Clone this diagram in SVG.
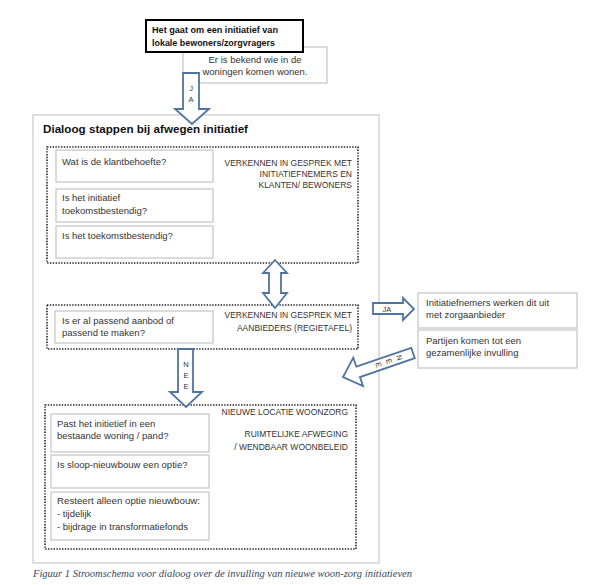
<svg xmlns="http://www.w3.org/2000/svg" width="600" height="585" viewBox="0 0 600 585">
<style>
.t{font-family:"Liberation Sans",Arial,sans-serif;font-size:9.5px;fill:#333}
.c{font-family:"Liberation Sans",Arial,sans-serif;font-size:8.5px;fill:#333;text-anchor:end}
.b{font-family:"Liberation Sans",Arial,sans-serif;font-weight:bold;fill:#111}
.box{fill:#fff;stroke:#c4c4c4;stroke-width:1.2}
.dot{fill:none;stroke:#222;stroke-width:1.6;stroke-dasharray:1.4 1.4}
.arr{fill:#fff;stroke:#4f74a0;stroke-width:1.8;stroke-linejoin:miter}
.al{font-family:"Liberation Sans",Arial,sans-serif;font-size:7.5px;fill:#333;text-anchor:middle}
</style>
<rect width="600" height="585" fill="#fff"/>

<g id="outer">
<rect x="33" y="115" width="346" height="448" fill="none" stroke="#c8c8c8" stroke-width="1.2"/>
<text class="b" x="43" y="133" font-size="11.5" textLength="205" lengthAdjust="spacingAndGlyphs">Dialoog stappen bij afwegen initiatief</text>
</g>

<g id="known">
<rect class="box" x="183" y="47" width="144" height="36"/>
<text class="t" x="255" y="63" text-anchor="middle">Er is bekend wie in de</text>
<text class="t" x="255" y="75" text-anchor="middle">woningen komen wonen.</text>
</g>

<g id="start">
<rect x="146" y="20" width="157" height="32" fill="#fff" stroke="#000" stroke-width="2"/>
<text class="b" x="152" y="33" font-size="9.5" textLength="126" lengthAdjust="spacingAndGlyphs">Het gaat om een initiatief van</text>
<text class="b" x="152" y="46" font-size="9.5" textLength="123" lengthAdjust="spacingAndGlyphs">lokale bewoners/zorgvragers</text>
</g>

<g id="stage1">
<rect class="dot" x="47" y="147" width="311" height="116"/>
<text class="c" x="352" y="166">VERKENNEN IN GESPREK MET</text>
<text class="c" x="352" y="177">INITIATIEFNEMERS EN</text>
<text class="c" x="352" y="188">KLANTEN/ BEWONERS</text>
</g>
<g id="q1">
<rect class="box" x="56" y="150" width="157" height="32"/>
<text class="t" x="62" y="165">Wat is de klantbehoefte?</text>
</g>
<g id="q2">
<rect class="box" x="56" y="189" width="157" height="33"/>
<text class="t" x="62" y="201">Is het initiatief</text>
<text class="t" x="62" y="214">toekomstbestendig?</text>
</g>
<g id="q3">
<rect class="box" x="56" y="226" width="157" height="32"/>
<text class="t" x="62" y="239">Is het toekomstbestendig?</text>
</g>

<g id="stage2">
<rect class="dot" x="47" y="305" width="311" height="44"/>
<text class="c" x="352" y="318">VERKENNEN IN GESPREK MET</text>
<text class="c" x="352" y="331">AANBIEDERS (REGIETAFEL)</text>
</g>
<g id="q4">
<rect class="box" x="55" y="311" width="158" height="32"/>
<text class="t" x="62" y="324">Is er al passend aanbod of</text>
<text class="t" x="62" y="336">passend te maken?</text>
</g>

<g id="stage3">
<rect class="dot" x="45" y="405" width="311" height="144"/>
<text class="c" x="348" y="415">NIEUWE LOCATIE WOONZORG</text>
<text class="c" x="348" y="437">RUIMTELIJKE AFWEGING</text>
<text class="c" x="348" y="450">/ WENDBAAR WOONBELEID</text>
</g>
<g id="q5">
<rect class="box" x="51" y="414" width="158" height="38"/>
<text class="t" x="57" y="427">Past het initietief in een</text>
<text class="t" x="57" y="439">bestaande woning / pand?</text>
</g>
<g id="q6">
<rect class="box" x="51" y="455" width="158" height="33"/>
<text class="t" x="57" y="468">Is sloop-nieuwbouw een optie?</text>
</g>
<g id="q7">
<rect class="box" x="51" y="492" width="158" height="48"/>
<text class="t" x="57" y="504" textLength="143" lengthAdjust="spacingAndGlyphs">Resteert alleen optie nieuwbouw:</text>
<text class="t" x="57" y="517">- tijdelijk</text>
<text class="t" x="57" y="530">- bijdrage in transformatiefonds</text>
</g>

<g id="r1">
<rect class="box" x="418" y="293" width="159" height="35"/>
<text class="t" x="426" y="306">Initiatiefnemers werken dit uit</text>
<text class="t" x="426" y="318">met zorgaanbieder</text>
</g>
<g id="r2">
<rect class="box" x="418" y="330" width="159" height="38"/>
<text class="t" x="426" y="344">Partijen komen tot een</text>
<text class="t" x="426" y="356">gezamenlijke invulling</text>
</g>

<g id="connectors">
<g id="ja-down">
<path class="arr" d="M183,73 L199,73 L199,109 L209,109 L192,124 L175,109 L183,109 Z"/>
<text class="al" x="191" y="91">J</text>
<text class="al" x="191" y="102">A</text>
</g>
<g id="both">
<path class="arr" d="M275,260 L287,273 L281,273 L281,293 L287,293 L275,308 L263,293 L269,293 L269,273 L263,273 Z"/>
</g>
<g id="nee-down">
<path class="arr" d="M178,349 L193,349 L193,392 L202,392 L186,407 L170,392 L178,392 Z"/>
<text class="al" x="186" y="367">N</text>
<text class="al" x="186" y="378">E</text>
<text class="al" x="186" y="389">E</text>
</g>
<g id="ja-right">
<path class="arr" d="M373,303 L403,303 L403,298 L414,309 L403,320 L403,314 L373,314 Z"/>
<text class="al" x="387" y="312">JA</text>
</g>
<g id="nee-diag" transform="translate(413,353) rotate(71)">
<path class="arr" d="M-5.5,0 L5.5,0 L5.5,58 L15,58 L0,74 L-15,58 L-5.5,58 Z"/>
<text class="al" x="0" y="17" font-size="8">N</text>
<text class="al" x="0" y="28" font-size="8">E</text>
<text class="al" x="0" y="39" font-size="8">E</text>
</g>
</g>

<text x="33" y="577" font-family="'Liberation Serif','Times New Roman',serif" font-style="italic" font-size="10" fill="#2f4866" textLength="379" lengthAdjust="spacingAndGlyphs">Figuur 1 Stroomschema voor dialoog over de invulling van nieuwe woon-zorg initiatieven</text>
</svg>
